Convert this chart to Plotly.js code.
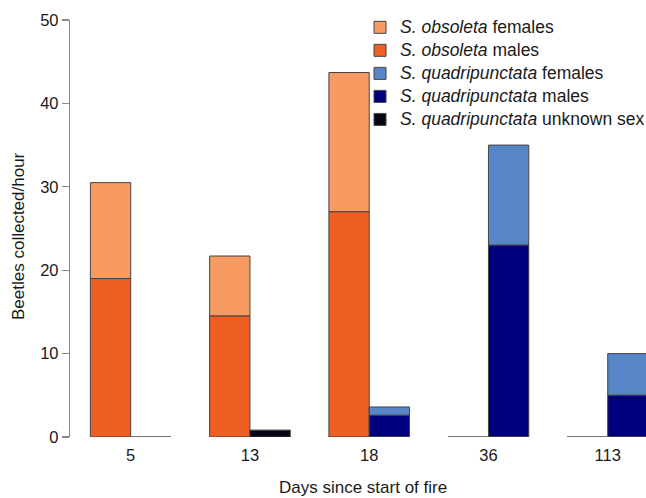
<!DOCTYPE html>
<html>
<head>
<meta charset="utf-8">
<script src="https://cdn.plot.ly/plotly-3.0.1.min.js"></script>
<style>html,body{margin:0;padding:0;background:#fff;}#chart{width:646px;height:498px;}</style>
</head>
<body>
<div id="chart"></div>
<script>
// Days since start of fire (categories)
var days = ['5', '13', '18', '36', '113'];
// Beetles collected/hour
var obsFemales  = [11.5, 7.2, 16.7, 0, 0];
var obsMales    = [19.0, 14.5, 27.0, 0, 0];
var quadFemales = [0, 0, 1.0, 12.0, 5.0];
var quadMales   = [0, 0, 2.6, 23.0, 5.0];
var quadUnknown = [0, 0.8, 0, 0, 0];

var names = [
  '<i>S. obsoleta</i> females',
  '<i>S. obsoleta</i> males',
  '<i>S. quadripunctata</i> females',
  '<i>S. quadripunctata</i> males',
  '<i>S. quadripunctata</i> unknown sex'
];
var colors = ['#F79B63', '#EF5E22', '#5686C8', '#00007F', '#050514'];

var idx = days.map(function(d, i){ return i; });
var W = 0.338;
var outline = {color: '#444', width: 1};
function lbl(s){ return '<span style="font-size:17.5px">' + s + '</span>'; }

var obsTotal = idx.map(function(i){ return obsMales[i] + obsFemales[i]; });
var quadTotal = idx.map(function(i){ return quadMales[i] + quadFemales[i] + quadUnknown[i]; });

function bar(vals, base, off, k){
  return {type: 'bar', x: idx, y: vals, base: base, offset: off, width: W,
    name: lbl(names[k]), marker: {color: colors[k], line: outline},
    hoverinfo: 'skip'};
}

var traces = [
  bar(obsFemales, obsMales, -W, 0),
  bar(obsMales, idx.map(function(){return 0;}), -W, 1),
  bar(quadFemales, idx.map(function(i){ return quadMales[i] + quadUnknown[i]; }), 0, 2),
  bar(quadMales, idx.map(function(){return 0;}), 0, 3),
  bar(quadUnknown, idx.map(function(){return 0;}), 0, 4)
];

// zero-height groups drawn as baseline segments
function zeroLine(tot, off){
  var xs = [], ys = [];
  idx.forEach(function(i){
    if (tot[i] === 0) { xs.push(i + off, i + off + W, null); ys.push(0, 0, null); }
  });
  return {type: 'scatter', mode: 'lines', x: xs, y: ys, showlegend: false,
    hoverinfo: 'skip', line: {color: '#808080', width: 1.3}, cliponaxis: false};
}
traces.push(zeroLine(obsTotal, -W));
traces.push(zeroLine(quadTotal, 0));

var font = {family: 'Liberation Sans, Arial, sans-serif', color: '#1a1a1a'};

var layout = {
  width: 646, height: 498,
  margin: {l: 70, r: 0, t: 20, b: 61, pad: 0, autoexpand: false},
  paper_bgcolor: '#fff', plot_bgcolor: '#fff',
  font: {family: font.family, size: 16, color: font.color},
  barmode: 'overlay',
  showlegend: true,
  legend: {x: 0.5035, xanchor: 'left', y: 1.022, yanchor: 'top',
    bgcolor: 'rgba(0,0,0,0)', traceorder: 'normal',
    font: {family: font.family, size: 15.4, color: font.color}},
  xaxis: {type: 'linear', range: [-0.509, 4.321], tickvals: idx, ticktext: days,
    ticks: '', showline: false, showgrid: false, zeroline: false, automargin: false,
    ticklabelstandoff: 6, tickfont: {size: 16.5}},
  yaxis: {range: [0, 50], tickvals: [0, 10, 20, 30, 40, 50], ticks: 'outside',
    ticklen: 7, tickwidth: 1.2, tickcolor: '#888', showline: true, linecolor: '#888',
    linewidth: 1.2, showgrid: false, zeroline: false, automargin: false,
    tickfont: {size: 16.5}},
  annotations: [
    {text: 'Days since start of fire', xref: 'paper', yref: 'paper',
     x: 0.509, y: -0.122, xanchor: 'center', yanchor: 'middle', showarrow: false,
     font: {size: 17}},
    {text: 'Beetles collected/hour', xref: 'paper', yref: 'paper',
     x: -0.0903, y: 0.482, xanchor: 'center', yanchor: 'middle', textangle: -90,
     showarrow: false, font: {size: 17}}
  ]
};

Plotly.newPlot('chart', traces, layout, {staticPlot: true, displayModeBar: false});
</script>
</body>
</html>
